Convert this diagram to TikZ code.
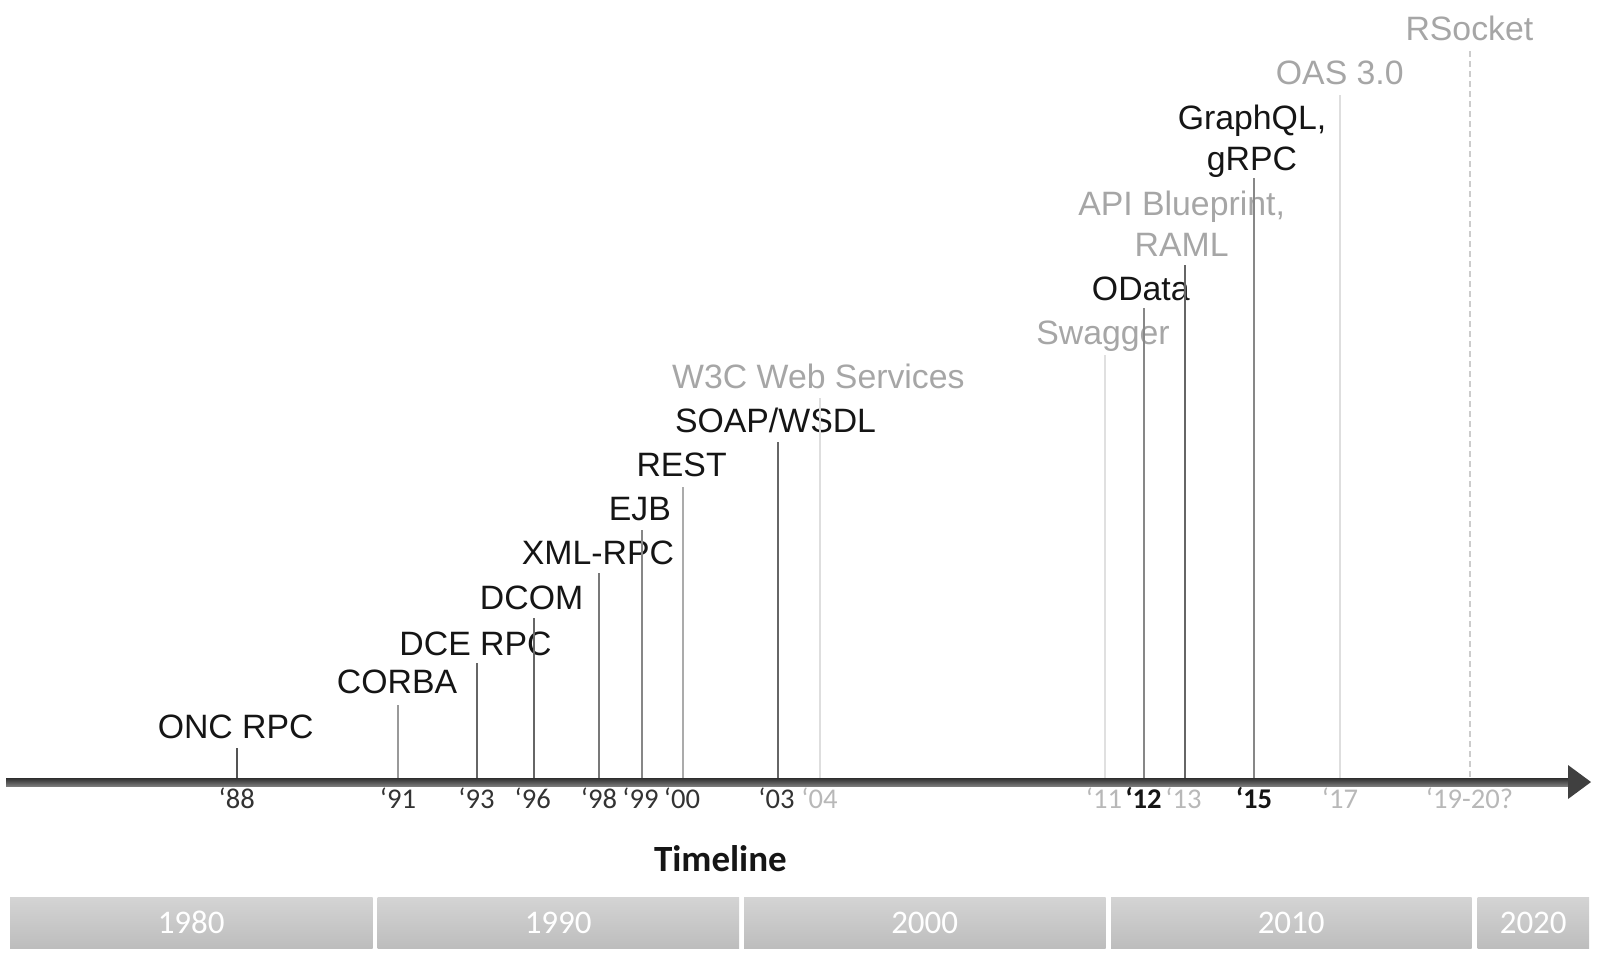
\documentclass[tikz,border=0pt]{standalone}
\usepackage{fontspec}
\setmainfont{Liberation Sans}
\newfontfamily\calfont{Carlito}
\definecolor{labeldark}{HTML}{151515}
\definecolor{labelgray}{HTML}{A6A6A6}
\definecolor{yrdark}{HTML}{333333}
\definecolor{yrgray}{HTML}{B8B8B8}
\definecolor{axtop}{HTML}{333333}
\definecolor{axbot}{HTML}{7A7A7A}
\definecolor{axhead}{HTML}{404040}
\definecolor{bartop}{HTML}{D4D4D4}
\definecolor{barbot}{HTML}{BDBDBD}
\begin{document}
\begin{tikzpicture}[x=0.5pt,y=-0.5pt,
  lbl/.style={anchor=base,inner sep=0pt,font=\fontsize{16.9}{20}\selectfont,text=labeldark},
  lblgray/.style={lbl,text=labelgray},
  yr/.style={anchor=base,inner sep=0pt,font=\calfont\fontsize{14.3}{16}\selectfont,text=yrdark},
  yrgray/.style={yr,text=yrgray},
  yrbold/.style={yr,font=\calfont\bfseries\fontsize{14.3}{16}\selectfont,text=labeldark},
  tickline/.style={line width=1pt},
  bar/.style={top color=bartop,bottom color=barbot,draw=none},
  dec/.style={inner sep=0pt,font=\calfont\fontsize{16.5}{18}\selectfont,text=white},
  ttl/.style={anchor=base,inner sep=0pt,font=\calfont\bfseries\fontsize{18.5}{20}\selectfont,text=labeldark}
]
\useasboundingbox (0,0) rectangle (1600,966);

% labels
\node[lbl] (onc) at (235.7,738.5) {ONC RPC};
\node[lbl] (corba) at (397,693.6) {CORBA};
\node[lbl] (dce) at (475.5,655) {DCE RPC};
\node[lbl] (dcom) at (531.6,609) {DCOM};
\node[lbl] (xml) at (598,564) {XML-RPC};
\node[lbl] (ejb) at (639.8,520) {EJB};
\node[lbl] (rest) at (681.6,476.3) {REST};
\node[lbl] (soap) at (775.5,432.4) {SOAP/WSDL};
\node[lblgray] (w3c) at (818.4,388.5) {W3C Web Services};
\node[lblgray] (swag) at (1103,344.7) {Swagger};
\node[lbl] (odata) at (1140.8,300.8) {OData};
\node[lblgray] (apib) at (1181.6,215) {API Blueprint,};
\node[lblgray] (raml) at (1181.6,256) {RAML};
\node[lbl] (gql) at (1252,129.3) {GraphQL,};
\node[lbl] (grpc) at (1252,170) {gRPC};
\node[lblgray] (oas) at (1339.8,84.4) {OAS 3.0};
\node[lblgray] (rsock) at (1469.4,40.6) {RSocket};

% axis reference
\coordinate (axL) at (6,782);
\coordinate (axR) at (1591,782);

% tick tops
\coordinate (t88) at (236.7,748);
\coordinate (t91) at (398,705);
\coordinate (t93) at (476.5,663);
\coordinate (t96) at (533.5,618);
\coordinate (t98) at (599,573);
\coordinate (t99) at (641.5,530);
\coordinate (t00) at (682.5,487);
\coordinate (t03) at (777.5,442);
\coordinate (t04) at (819.5,398);
\coordinate (t11) at (1105,355);
\coordinate (t12) at (1144,308);
\coordinate (t13) at (1185,265);
\coordinate (t15) at (1254,178);
\coordinate (t17) at (1340,95);
\coordinate (t19) at (1469.5,51);

\draw[tickline,color=black!67] (t88) -- (t88 |- axL);
\draw[tickline,color=black!40] (t91) -- (t91 |- axL);
\draw[tickline,color=black!60] (t93) -- (t93 |- axL);
\draw[tickline,color=black!60] (t96) -- (t96 |- axL);
\draw[tickline,color=black!53] (t98) -- (t98 |- axL);
\draw[tickline,color=black!47] (t99) -- (t99 |- axL);
\draw[tickline,color=black!33] (t00) -- (t00 |- axL);
\draw[tickline,color=black!60] (t03) -- (t03 |- axL);
\draw[tickline,color=black!13] (t04) -- (t04 |- axL);
\draw[tickline,color=black!12] (t11) -- (t11 |- axL);
\draw[tickline,color=black!47] (t12) -- (t12 |- axL);
\draw[tickline,color=black!60] (t13) -- (t13 |- axL);
\draw[tickline,color=black!47] (t15) -- (t15 |- axL);
\draw[tickline,color=black!13] (t17) -- (t17 |- axL);
\draw[tickline,color=black!20,dash pattern=on 3pt off 2pt] (t19) -- (t19 |- axL);

% axis
\shade[top color=axtop,bottom color=axbot] (6,778.5) rectangle (1570,786);
\fill[axhead] (1568,765) -- (axR) -- (1568,799) -- cycle;

% year labels
\node[yr] (y88) at (236.7,808) {‘88};
\node[yr] (y91) at (398,808) {‘91};
\node[yr] (y93) at (476.5,808) {‘93};
\node[yr] (y96) at (532.7,808) {‘96};
\node[yr] (y98) at (599,808) {‘98};
\node[yr] (y99) at (640.5,808) {‘99};
\node[yr] (y00) at (682,808) {‘00};
\node[yr] (y03) at (776.5,808) {‘03};
\node[yrgray] (y04) at (819.5,808) {‘04};
\node[yrgray] (y11) at (1104,808) {‘11};
\node[yrbold] (y12) at (1143.5,808) {‘12};
\node[yrgray] (y13) at (1183.5,808) {‘13};
\node[yrbold] (y15) at (1254,808) {‘15};
\node[yrgray] (y17) at (1340,808) {‘17};
\node[yrgray] (y19) at (1469.5,808) {‘19-20?};

% title
\node[ttl] (title) at (720.4,871) {Timeline};

% decades
\shade[bar] (10,897) rectangle (372.5,948);
\shade[bar] (377.5,897) rectangle (739,948);
\shade[bar] (744,897) rectangle (1105.5,948);
\shade[bar] (1111,897) rectangle (1471.5,948);
\shade[bar] (1477.5,897) rectangle (1589,948);
\node[dec] (d1980) at (191.2,922.5) {1980};
\node[dec] (d1990) at (558.2,922.5) {1990};
\node[dec] (d2000) at (924.7,922.5) {2000};
\node[dec] (d2010) at (1291.2,922.5) {2010};
\node[dec] (d2020) at (1533.2,922.5) {2020};
\end{tikzpicture}
\end{document}
